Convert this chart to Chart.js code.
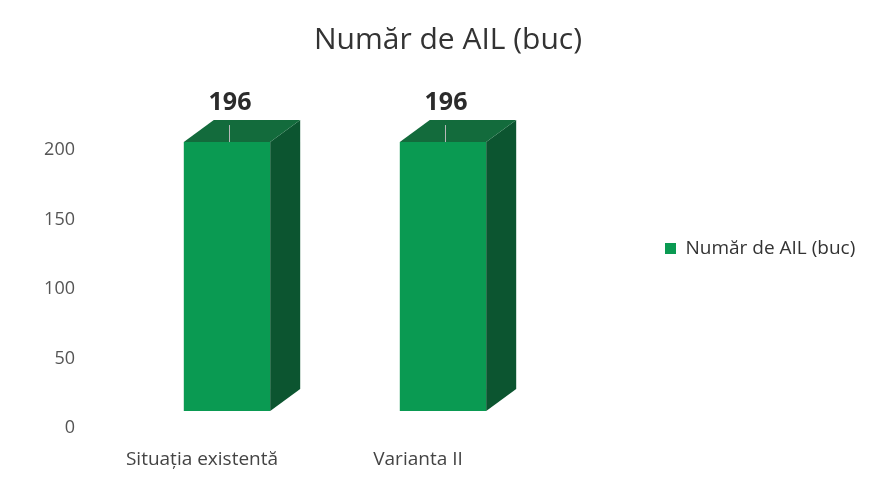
<!DOCTYPE html>
<html>
<head>
<meta charset="utf-8">
<script src="https://cdn.jsdelivr.net/npm/chart.js@4.4.1/dist/chart.umd.min.js"></script>
<style>
  html, body { margin: 0; padding: 0; background: #fff; }
  #wrap { width: 870px; height: 483px; }
</style>
</head>
<body>
<div id="wrap"><canvas id="ailChart" width="870" height="483"></canvas></div>
<script>
// chart data
const categories = ['Situația existentă', 'Varianta II'];
const ailValues = [196, 196];
const seriesName = 'Număr de AIL (buc)';
const yTicks = [0, 50, 100, 150, 200];

const FONT = "'Open Sans', sans-serif";
const FRONT = '#0a9a52';
const SIDE = '#0c5530';
const TOP = '#136b3c';
const DEPTH_X = 30, DEPTH_Y = 22;

// draws the side and top faces of each bar, plus the value label
const bar3d = {
    id: 'bar3d',
    afterDatasetsDraw(chart) {
        const ctx = chart.ctx;
        const meta = chart.getDatasetMeta(0);
        meta.data.forEach((bar, i) => {
            const p = bar.getProps(['x', 'y', 'base', 'width'], true);
            const l = p.x - p.width / 2, r = p.x + p.width / 2;
            const t = p.y, b = p.base;
            ctx.save();
            // side face
            ctx.fillStyle = SIDE;
            ctx.beginPath();
            ctx.moveTo(r, t);
            ctx.lineTo(r + DEPTH_X, t - DEPTH_Y);
            ctx.lineTo(r + DEPTH_X, b - DEPTH_Y);
            ctx.lineTo(r, b);
            ctx.closePath();
            ctx.fill();
            // top face
            ctx.fillStyle = TOP;
            ctx.beginPath();
            ctx.moveTo(l, t);
            ctx.lineTo(l + DEPTH_X, t - DEPTH_Y);
            ctx.lineTo(r + DEPTH_X, t - DEPTH_Y);
            ctx.lineTo(r, t);
            ctx.closePath();
            ctx.fill();
            // leader line
            ctx.strokeStyle = '#b8b8b8';
            ctx.lineWidth = 1;
            ctx.beginPath();
            ctx.moveTo(Math.round(p.x + 2) + 0.5, t - 17);
            ctx.lineTo(Math.round(p.x + 2) + 0.5, t);
            ctx.stroke();
            // value label
            ctx.fillStyle = '#2b2b2b';
            ctx.font = 'bold 25px ' + FONT;
            ctx.textAlign = 'center';
            ctx.textBaseline = 'alphabetic';
            ctx.fillText(String(ailValues[i]), p.x + 3, t - 32);
            ctx.restore();
        });
    }
};

const ctx = document.getElementById('ailChart').getContext('2d');
new Chart(ctx, {
    type: 'bar',
    data: {
        labels: categories,
        datasets: [{
            label: seriesName,
            data: ailValues,
            yAxisID: 'y2',
            backgroundColor: FRONT,
            borderWidth: 0,
            barPercentage: 0.4,
            categoryPercentage: 1,
            clip: false
        }]
    },
    options: {
        responsive: false,
        animation: false,
        layout: { padding: { top: 22, left: 34, right: 8, bottom: 8 } },
        plugins: {
            title: {
                display: true,
                text: seriesName,
                color: '#333',
                font: { family: FONT, size: 30, weight: 'normal' },
                padding: { top: 0, bottom: 92 }
            },
            legend: {
                position: 'right',
                labels: {
                    color: '#333',
                    font: { family: FONT, size: 19 },
                    boxWidth: 11,
                    boxHeight: 11,
                    padding: 10
                }
            },
            tooltip: { enabled: false }
        },
        scales: {
            x: {
                grid: { display: false, drawTicks: false },
                border: { display: false },
                afterFit: (scale) => { scale.height = 45; },
                ticks: {
                    color: '#444',
                    font: { family: FONT, size: 19 },
                    padding: 20,
                    labelOffset: -25,
                    maxRotation: 0
                }
            },
            y: {
                min: 0,
                max: 200,
                grid: { display: false, drawTicks: false },
                border: { display: false },
                afterBuildTicks: (scale) => {
                    scale.ticks = yTicks.map(v => ({ value: v }));
                },
                afterFit: (scale) => { scale.width = 85; },
                ticks: {
                    color: '#555',
                    font: { family: FONT, size: 18 },
                    padding: 44
                }
            },
            y2: {
                display: false,
                position: 'right',
                min: -12.5,
                max: 190.2,
                afterFit: (scale) => { scale.width = 104; }
            }
        }
    },
    plugins: [bar3d]
});
</script>
</body>
</html>
